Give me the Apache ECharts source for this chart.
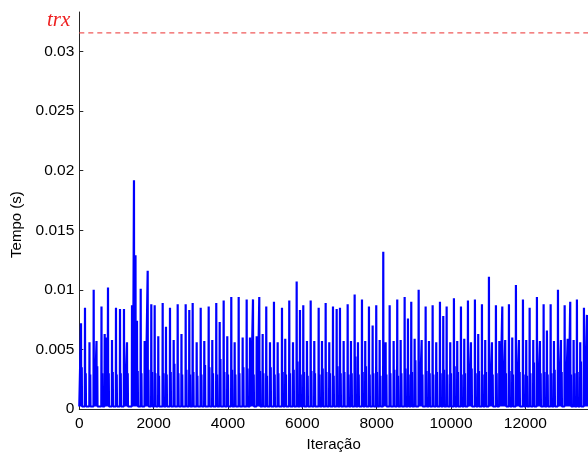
<!DOCTYPE html>
<html>
<head>
<meta charset="utf-8">
<script src="https://cdn.jsdelivr.net/npm/echarts@6/dist/echarts.min.js"></script>
<style>html,body{margin:0;padding:0;background:#fff;}#c{width:588px;height:457px;}</style>
</head>
<body>
<div id="c"></div>
<script>
// ---- data ----
const xTicks = [0, 2000, 4000, 6000, 8000, 10000, 12000];
const yTicks = [0, 0.005, 0.01, 0.015, 0.02, 0.025, 0.03];
const xMax = 13686;
const yMax = 0.0333;
const trxValue = 0.03155;
const baseValue = 0.00022;

const spikeIter = [46,153,274,387,463,597,683,737,772,880,987,1095,1202,1283,1418,1471,1512,1552,1652,1759,1840,1937,2028,2125,2243,2332,2440,2539,2647,2749,
2862,2959,3050,3158,3266,3363,3481,3578,3685,3777,3884,3981,4089,4180,4288,4395,4503,4592,4673,4772,4842,4933,5030,5130,5237,5337,5453,
5541,5649,5749,5848,5937,6026,6125,6225,6322,6440,6529,6628,6725,6825,6924,7013,7112,7220,7309,7408,7497,7605,7693,7793,7892,7989,8081,8178,
8242,8350,8457,8554,8646,8753,8842,8931,9022,9130,9211,9318,9407,9506,9603,9703,9792,9883,9980,10079,10168,10268,10357,10456,10537,10644,10733,10833,10921,
11021,11102,11209,11300,11380,11459,11559,11648,11747,11828,11936,12024,12116,12213,12312,12393,12492,12581,12681,12770,12878,12958,13058,13139,13208,13299,13388,13477,13577,13657];

const spikeVal = [0.0072,0.0085,0.0056,0.0100,0.0057,0.0086,0.0063,0.0060,0.0102,0.0058,0.0085,0.0084,0.0084,0.0056,0.0087,0.0192,0.0129,0.0074,0.0101,0.0057,0.0116,0.0088,0.0087,0.0061,0.0089,0.0069,0.0085,0.0058,0.0088,0.0063,
0.0088,0.0083,0.0089,0.0056,0.0085,0.0057,0.0086,0.0058,0.0089,0.0073,0.0091,0.0061,0.0094,0.0056,0.0094,0.0060,0.0092,0.0060,0.0092,0.0061,0.0094,0.0063,0.0086,0.0056,0.0090,0.0056,0.0085,
0.0059,0.0091,0.0056,0.0107,0.0083,0.0087,0.0057,0.0091,0.0057,0.0085,0.0057,0.0089,0.0056,0.0086,0.0084,0.0085,0.0057,0.0088,0.0057,0.0096,0.0056,0.0092,0.0057,0.0086,0.0070,0.0087,0.0058,0.0132,
0.0056,0.0087,0.0057,0.0092,0.0058,0.0094,0.0076,0.0090,0.0059,0.0100,0.0058,0.0086,0.0057,0.0087,0.0056,0.0090,0.0078,0.0086,0.0056,0.0093,0.0057,0.0086,0.0059,0.0091,0.0056,0.0092,0.0063,0.0088,0.0058,
0.0111,0.0056,0.0087,0.0057,0.0086,0.0058,0.0088,0.0060,0.0104,0.0058,0.0092,0.0058,0.0085,0.0058,0.0094,0.0057,0.0088,0.0066,0.0088,0.0057,0.0100,0.0058,0.0087,0.0059,0.0090,0.0058,0.0092,0.0056,0.0085,0.0079];

const lowVal = [0.0035,0.0030,0.0029,0.0031,0.0036,0.0030,0.0029,0.0032,0.0030,0.0031,0.0029,0.0030,0.0028,0.0030,0.0031,0.0076,0.0040,0.0032,0.0030,0.0029,0.0033,0.0031,0.0030,0.0028,0.0030,0.0029,0.0031,0.0038,0.0030,0.0029,
0.0033,0.0029,0.0031,0.0028,0.0029,0.0037,0.0035,0.0030,0.0029,0.0042,0.0031,0.0029,0.0033,0.0029,0.0030,0.0035,0.0034,0.0030,0.0029,0.0041,0.0032,0.0030,0.0028,0.0035,0.0029,0.0030,0.0031,
0.0029,0.0030,0.0033,0.0040,0.0029,0.0031,0.0028,0.0032,0.0030,0.0029,0.0034,0.0031,0.0030,0.0028,0.0036,0.0030,0.0031,0.0029,0.0030,0.0044,0.0029,0.0031,0.0036,0.0029,0.0030,0.0031,0.0028,0.0030,
0.0029,0.0030,0.0033,0.0028,0.0030,0.0034,0.0029,0.0031,0.0041,0.0030,0.0029,0.0032,0.0030,0.0029,0.0031,0.0030,0.0033,0.0029,0.0030,0.0036,0.0031,0.0029,0.0030,0.0028,0.0034,0.0030,0.0032,0.0029,0.0031,
0.0033,0.0029,0.0030,0.0031,0.0029,0.0030,0.0032,0.0029,0.0030,0.0031,0.0029,0.0028,0.0030,0.0039,0.0029,0.0030,0.0031,0.0029,0.0030,0.0033,0.0029,0.0031,0.0030,0.0034,0.0029,0.0030,0.0031,0.0040,0.0029];

// ---- build line data (spike + companion, back to baseline) ----
const lineData = [[0, baseValue]];
for (let i = 0; i < spikeIter.length; i++) {
  const x = spikeIter[i];
  lineData.push([x - 5, baseValue], [x, spikeVal[i]], [x + 5, baseValue],
                [x + 20, lowVal[i]], [x + 27, baseValue]);
}
lineData.push([xMax, baseValue]);
const trxData = [[0, trxValue], [xMax, trxValue]];

const chart = echarts.init(document.getElementById('c'), null, {renderer: 'canvas'});
const font = '"Liberation Sans", Arial, Helvetica, sans-serif';
const plainNum = v => String(v);
chart.setOption({
  animation: false,
  backgroundColor: '#fff',
  grid: {left: 79.3, right: 0, top: 12, bottom: 42, containLabel: false},
  xAxis: {
    type: 'value', min: 0, max: xMax,
    name: 'Iteração', nameLocation: 'middle', nameGap: 26,
    nameTextStyle: {fontFamily: font, fontSize: 15, color: '#000'},
    axisLine: {show: true, lineStyle: {color: '#262626', width: 1}},
    axisTick: {show: true, inside: true, length: 4, customValues: xTicks, lineStyle: {color: '#262626'}},
    axisLabel: {customValues: xTicks, formatter: plainNum, fontFamily: font, fontSize: 15.5, color: '#000', margin: 7},
    splitLine: {show: false}
  },
  yAxis: {
    type: 'value', min: 0, max: yMax,
    name: 'Tempo (s)', nameLocation: 'middle', nameGap: 53, nameRotate: 90,
    nameTextStyle: {fontFamily: font, fontSize: 15, color: '#000', padding: [0, 0, 0, -28]},
    axisLine: {show: true, lineStyle: {color: '#262626', width: 1}},
    axisTick: {show: true, inside: true, length: 4, customValues: yTicks, lineStyle: {color: '#262626'}},
    axisLabel: {customValues: yTicks, formatter: plainNum, fontFamily: font, fontSize: 15.5, color: '#000', margin: 5},
    splitLine: {show: false}
  },
  series: [{
    type: 'line',
    data: lineData,
    showSymbol: false,
    symbol: 'none',
    sampling: null,
    lineStyle: {color: '#0000ff', width: 2.2},
    z: 2
  }, {
    type: 'line',
    data: trxData,
    showSymbol: false,
    symbol: 'none',
    lineStyle: {color: '#ef5a5a', type: [5, 4], width: 1.2},
    z: 3
  }],
  graphic: [{
    type: 'text',
    left: 47, top: 10,
    style: {
      text: 'trx',
      font: 'italic 21px "Liberation Serif", "Times New Roman", serif',
      fill: '#ee2020'
    }
  }]
});
</script>
</body>
</html>
